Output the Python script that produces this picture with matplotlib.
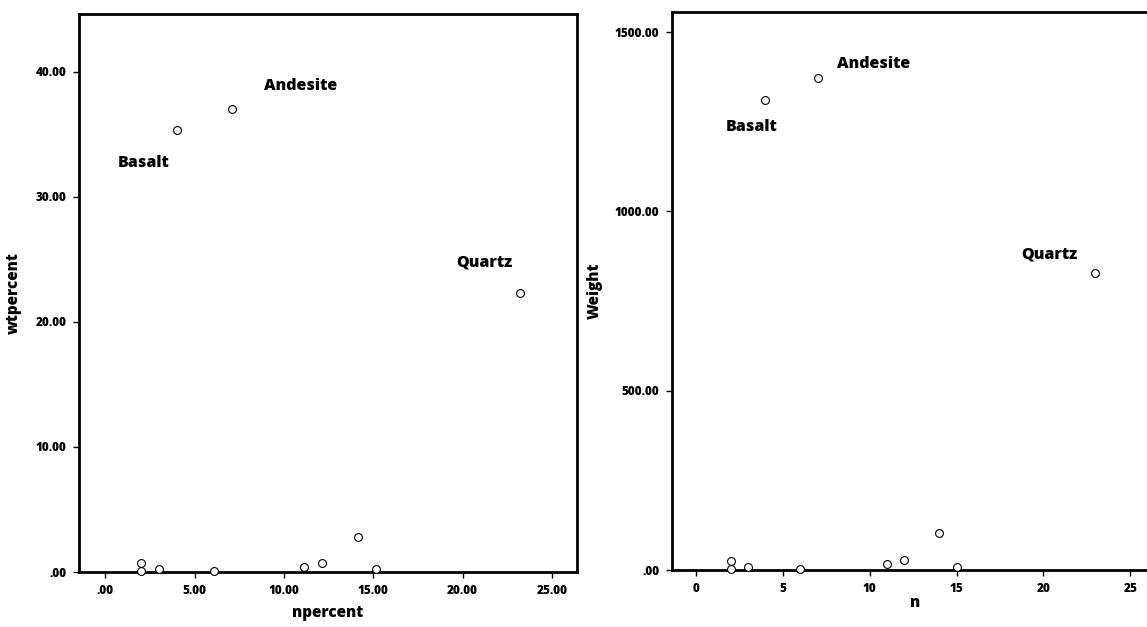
import matplotlib
matplotlib.use("Agg")
import matplotlib.pyplot as plt
from matplotlib.ticker import FixedLocator, FuncFormatter

plt.rcParams['font.family'] = ['Open Sans', 'DejaVu Sans']
plt.rcParams['font.weight'] = 'bold'

# Sample counts and weights per rock type
n = [2, 2, 3, 4, 6, 7, 11, 12, 14, 15, 23]
weight = [26, 4, 9, 1310, 3, 1372, 16, 28, 103, 8, 827]
npercent = [2.02, 2.02, 3.03, 4.04, 6.06, 7.07, 11.11, 12.12, 14.14, 15.15, 23.23]
wtpercent = [0.70, 0.11, 0.24, 35.35, 0.08, 37.02, 0.43, 0.76, 2.78, 0.22, 22.32]

# Named rock types: index into the series above and label offset (pixels)
labels = ["Basalt", "Andesite", "Quartz"]
label_idx = [3, 5, 10]
left_offsets = [(-34, -33), (69, 23), (-36, 30)]
right_offsets = [(-14, -27), (56, 14), (-46, 19)]

left_xticks = [0, 5, 10, 15, 20, 25]
left_yticks = [0, 10, 20, 30, 40]
right_xticks = [0, 5, 10, 15, 20, 25]
right_yticks = [0, 500, 1000, 1500]


def spss_fmt(v, pos=None):
    s = f"{v:.2f}"
    if s.startswith("0."):
        s = s[1:]
    return s


fig = plt.figure(figsize=(11.47, 6.27), dpi=100)
ax1 = fig.add_axes([0.0689, 0.0877, 0.4342, 0.890])
ax2 = fig.add_axes([0.5859, 0.0909, 0.4237, 0.890])


def style(ax):
    for sp in ax.spines.values():
        sp.set_linewidth(2.0)
        sp.set_color("black")
    ax.tick_params(direction="out", length=4, width=1, labelsize=8.5,
                   pad=5, colors="black")
    for lab in ax.get_xticklabels() + ax.get_yticklabels():
        lab.set_fontweight("heavy")


def draw(ax, xs, ys, offsets):
    ax.scatter(xs, ys, s=32, facecolors="white", edgecolors="black",
               linewidths=0.8, zorder=3, clip_on=False)
    for name, i, off in zip(labels, label_idx, offsets):
        ax.annotate(name, (xs[i], ys[i]), xytext=off, textcoords="offset pixels",
                    ha="center", va="center", fontsize=11.5, fontweight="heavy")


draw(ax1, npercent, wtpercent, left_offsets)
ax1.set_xlim(-1.47, 26.4)
ax1.set_ylim(0, 44.6)
ax1.xaxis.set_major_locator(FixedLocator(left_xticks))
ax1.yaxis.set_major_locator(FixedLocator(left_yticks))
ax1.xaxis.set_major_formatter(FuncFormatter(spss_fmt))
ax1.yaxis.set_major_formatter(FuncFormatter(spss_fmt))
ax1.set_xlabel("npercent", fontsize=11, fontweight="heavy", labelpad=6)
ax1.set_ylabel("wtpercent", fontsize=11, fontweight="heavy", labelpad=10)
style(ax1)

draw(ax2, n, weight, right_offsets)
ax2.set_xlim(-1.38, 26.6)
ax2.set_ylim(0, 1556)
ax2.xaxis.set_major_locator(FixedLocator(right_xticks))
ax2.yaxis.set_major_locator(FixedLocator(right_yticks))
ax2.xaxis.set_major_formatter(FuncFormatter(lambda v, p: f"{int(v)}"))
ax2.yaxis.set_major_formatter(FuncFormatter(spss_fmt))
ax2.set_xlabel("n", fontsize=11, fontweight="heavy", labelpad=0)
ax2.set_ylabel("Weight", fontsize=11, fontweight="heavy", labelpad=9)
style(ax2)

fig.savefig("out.png", dpi=100)
